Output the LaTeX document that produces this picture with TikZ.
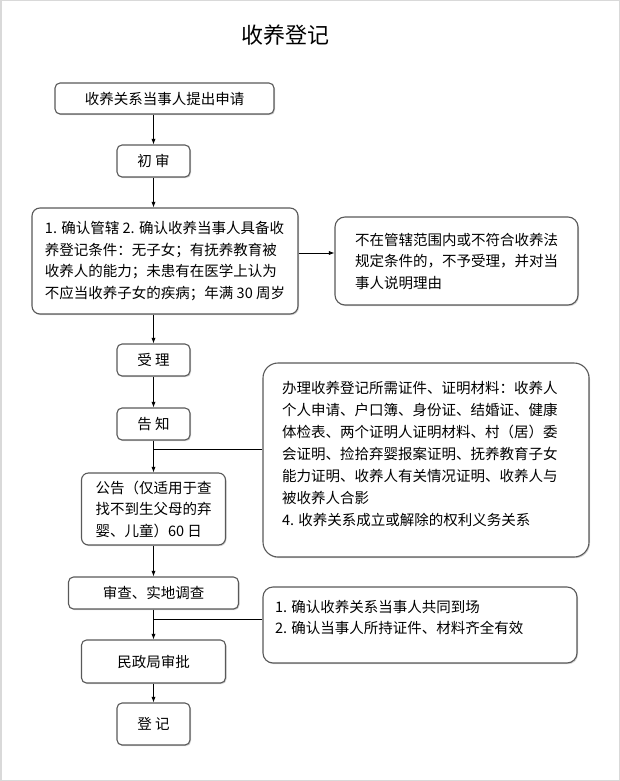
\documentclass[tikz,border=0pt]{standalone}
\usepackage{fontspec}
\setmainfont{Noto Sans CJK SC}
\usetikzlibrary{positioning, arrows.meta, shadows}
\tikzset{
	stepbox/.style= {
		rectangle,
		rounded corners=5pt,
		draw=black!65,
		line width=1.1pt,
		fill=white,
		inner sep=0pt,
		align=center,
		font=\fontsize{14.5}{21.5}\selectfont,
		drop shadow={shadow xshift=1pt, shadow yshift=-1.2pt, opacity=0.35}
	},
	notebox/.style= {
		stepbox,
		rounded corners=10pt,
		align=left
	},
	flow/.style={-{Latex[length=2mm]}, line width=0.8pt},
	branch/.style={line width=0.8pt},
}

\begin{document}
\begin{tikzpicture}[x=1pt, y=-1pt]
		\useasboundingbox (0,0) rectangle (620,781);
		\draw[black!15, line width=1.5pt] (0.75,0.75) rectangle (619.25,780.25);

		\node (title) [font=\fontsize{22}{26}\selectfont] at (285,35) {收养登记};

		\node (apply) [stepbox, minimum width=219, minimum height=31] at (164.5,98.5) {收养关系当事人提出申请};
		\node (first) [stepbox, minimum width=73, minimum height=32] at (153.5,161) {初\ 审};
		\node (review) [notebox, rounded corners=8pt, minimum width=266, minimum height=106] at (165,261) {
			1. 确认管辖 2. 确认收养当事人具备收\\
			养登记条件：无子女；有抚养教育被\\
			收养人的能力；未患有在医学上认为\\
			不应当收养子女的疾病；年满 30 周岁};
		\node (reject) [notebox, minimum width=243, minimum height=88] at (456.5,261) {
			不在管辖范围内或不符合收养法\\
			规定条件的，不予受理，并对当\\
			事人说明理由};

		\node (accept) [stepbox, minimum width=73, minimum height=32] at (153.5,360) {受\ 理};
		\node (notify) [stepbox, minimum width=73, minimum height=32] at (153.5,424) {告\ 知};
		\node (docs) [notebox, rounded corners=15pt, minimum width=326, minimum height=194, font=\fontsize{14.5}{22}\selectfont] at (426,460) {%
			\parbox[c][158pt][t]{288pt}{办理收养登记所需证件、证明材料：收养人\\
			个人申请、户口簿、身份证、结婚证、健康\\
			体检表、两个证明人证明材料、村（居）委\\
			会证明、捡拾弃婴报案证明、抚养教育子女\\
			能力证明、收养人有关情况证明、收养人与\\
			被收养人合影\\
			4. 收养关系成立或解除的权利义务关系}};
		\node (notice) [notebox, rounded corners=7pt, minimum width=144, minimum height=72] at (153.5,509) {
			公告（仅适用于查\\
			找不到生父母的弃\\
			婴、儿童）60 日};

		\node (survey) [stepbox, minimum width=170, minimum height=32] at (153.5,593) {审查、实地调查};
		\node (check) [notebox, minimum width=314, minimum height=76] at (420,625) {%
			\parbox[c][50pt][t]{290pt}{1. 确认收养关系当事人共同到场\\
			2. 确认当事人所持证件、材料齐全有效}};
		\node (approve) [stepbox, minimum width=144, minimum height=43] at (153.5,661.5) {民政局审批};
		\node (register) [stepbox, minimum width=73, minimum height=42] at (153.5,724) {登\ 记};

		\coordinate (docsjoin) at (153.5,449);
		\coordinate (checkjoin) at (153.5,619);

		\draw[flow] (apply.south -| first) to (first);
		\draw[flow] (first) to (first |- review.north);
		\draw[flow] ([yshift=8pt]review.east) to ([yshift=8pt]reject.west);
		\draw[flow] (review.south -| accept) to (accept);
		\draw[flow] (accept) to (notify);
		\draw[flow] (notify) to (notice);
		\draw[branch] (docs.west |- docsjoin) to (docsjoin);
		\draw[flow] (notice) to (survey);
		\draw[flow] (survey) to (approve);
		\draw[branch] (check.west |- checkjoin) to (checkjoin);
		\draw[flow] (approve) to (register);
	\end{tikzpicture}
\end{document}
